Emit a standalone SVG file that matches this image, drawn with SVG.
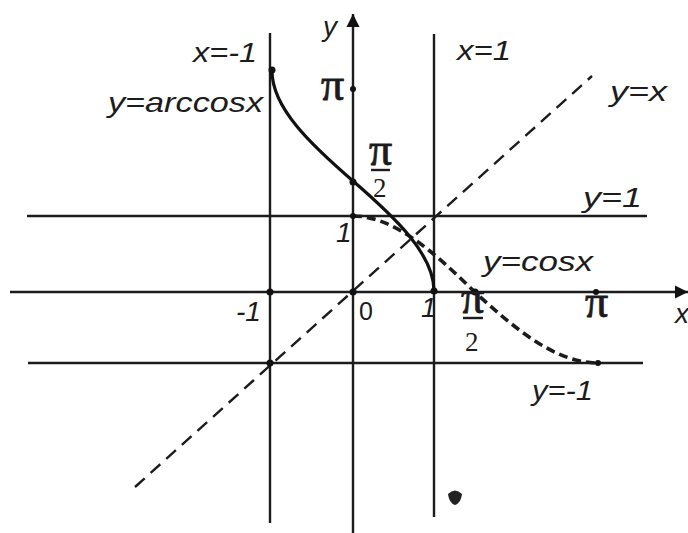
<svg xmlns="http://www.w3.org/2000/svg" width="688" height="533" viewBox="0 0 688 533">
<style>
.ln{stroke:#1c1c1c;stroke-width:2.4;fill:none}
.yx{stroke:#1c1c1c;stroke-width:2.4;fill:none;stroke-dasharray:13 8}
.cs{stroke:#1c1c1c;stroke-width:3.6;fill:none;stroke-dasharray:9 5}
.ac{stroke:#111;stroke-width:3.2;fill:none}
.dot{fill:#111}
.lb{font-family:"Liberation Sans",Arial,sans-serif;font-style:italic;font-size:28px;fill:#1c1c1c}
.pi{font-family:"Liberation Serif","Times New Roman",serif;font-size:46px;fill:#1c1c1c;stroke:#1c1c1c;stroke-width:0.8}
.two{font-family:"Liberation Serif","Times New Roman",serif;font-size:27px;fill:#1c1c1c}
</style>
<defs>
<marker id="arr" viewBox="0 0 10 10" refX="10" refY="5" markerWidth="5.5" markerHeight="5.5" orient="auto" markerUnits="strokeWidth">
<path d="M0,0 L10,5 L0,10 Z" fill="#111"/>
</marker>
</defs>
<rect width="688" height="533" fill="#ffffff"/>
<g id="connectors">
<line id="hline-y1" class="ln" x1="27" y1="216" x2="647" y2="216"/>
<line id="hline-ym1" class="ln" x1="28" y1="363" x2="643" y2="363"/>
<line id="x-axis" class="ln" x1="10" y1="292" x2="688" y2="292" marker-end="url(#arr)"/>
<line id="vline-xm1" class="ln" x1="270" y1="33" x2="270" y2="523"/>
<line id="vline-x1" class="ln" x1="434" y1="34" x2="434" y2="517"/>
<line id="y-axis" class="ln" x1="353" y1="533" x2="353" y2="14" marker-end="url(#arr)"/>
<line id="y-eq-x" class="yx" x1="135" y1="487" x2="592" y2="76"/>
<path id="cos" class="cs" d="M353,216 C393.6,216 434.2,252.2 474.7,292 C515.3,329.2 555.9,363 598,363"/>
<path id="arccos" class="ac" d="M434,291 C434,254.3 395.4,217.7 353,181 C310.6,144.4 272,107.7 272,71"/>
</g>
<g id="points">
<circle class="dot" cx="272" cy="70" r="3.5"/>
<circle class="dot" cx="353" cy="89" r="3"/>
<circle class="dot" cx="353" cy="182" r="3.5"/>
<circle class="dot" cx="353" cy="216" r="3"/>
<circle class="dot" cx="270" cy="292" r="3.5"/>
<circle class="dot" cx="353" cy="292" r="3.5"/>
<circle class="dot" cx="434" cy="291" r="3.5"/>
<circle class="dot" cx="475" cy="292" r="3.5"/>
<circle class="dot" cx="596" cy="292" r="3"/>
<circle class="dot" cx="270" cy="363" r="3.5"/>
<circle class="dot" cx="598" cy="363" r="3"/>
</g>
<g id="labels">
<text class="lb" x="193" y="62" textLength="64" lengthAdjust="spacingAndGlyphs">x=-1</text>
<text class="lb" x="323" y="36">y</text>
<text class="pi" x="321" y="100">π</text>
<text class="lb" x="108" y="112" textLength="155" lengthAdjust="spacingAndGlyphs">y=arccosx</text>
<text class="lb" x="457" y="60" textLength="54" lengthAdjust="spacingAndGlyphs">x=1</text>
<text class="lb" x="610" y="101" textLength="57" lengthAdjust="spacingAndGlyphs">y=x</text>
<text class="lb" x="583" y="207" textLength="59" lengthAdjust="spacingAndGlyphs">y=1</text>
<text class="lb" x="336" y="242" font-size="26">1</text>
<text class="lb" x="483" y="271" textLength="110" lengthAdjust="spacingAndGlyphs">y=cosx</text>
<text class="lb" x="236" y="321" font-size="26" textLength="25" lengthAdjust="spacingAndGlyphs">-1</text>
<text x="359" y="320" font-family="Liberation Sans, Arial, sans-serif" font-size="25" fill="#1c1c1c">0</text>
<text class="lb" x="421" y="317" font-size="26">1</text>
<text class="pi" x="585" y="317">π</text>
<text class="lb" x="675" y="323">x</text>
<text class="lb" x="532" y="400" textLength="61" lengthAdjust="spacingAndGlyphs">y=-1</text>
</g>
<g id="frac-y">
<text class="pi" x="369" y="165" font-size="42">π</text>
<line class="ln" x1="371" y1="170" x2="390" y2="170" stroke-width="2"/>
<text class="two" x="373" y="197">2</text>
</g>
<g id="frac-x">
<text class="pi" x="461" y="313" font-size="42">π</text>
<line class="ln" x1="463" y1="318" x2="483" y2="318" stroke-width="2"/>
<text class="two" x="465" y="351">2</text>
</g>
<g id="ink-spot">
<path d="M448,494 Q455,487 462,494 Q461,503 455,505 Q449,503 448,494 Z" fill="#222"/>
</g>
</svg>
